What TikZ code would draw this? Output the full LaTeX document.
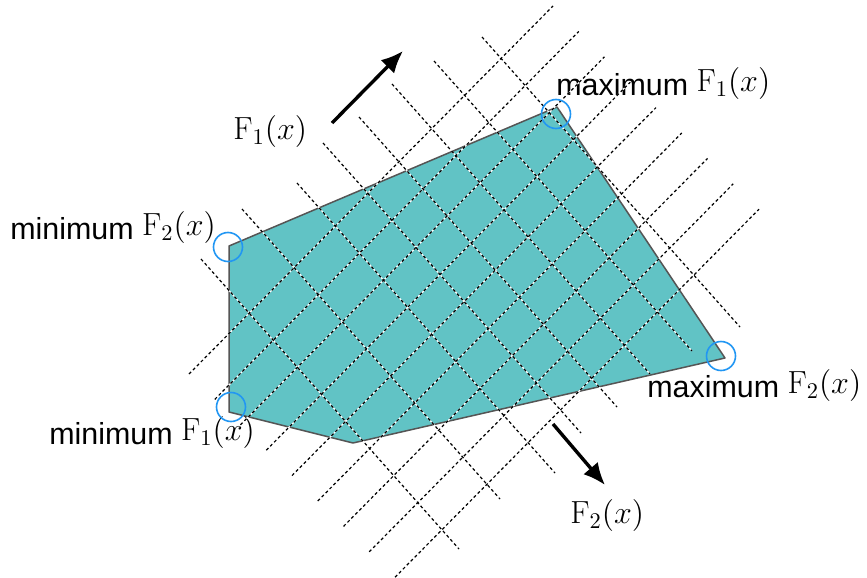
\documentclass[tikz,border=0pt]{standalone}
\usepackage{fix-cm}
\usepackage{fontspec}
\newfontfamily\labfont{Liberation Sans}
\usetikzlibrary{arrows.meta}
\definecolor{polyfill}{RGB}{97,195,197}
\definecolor{polyedge}{RGB}{85,85,85}
\definecolor{ringblue}{RGB}{33,150,243}
\newcommand{\fx}[1]{\raisebox{1.8pt}{\fontsize{16}{19}\selectfont$\mathrm{F}_{#1}(x)$}}
\begin{document}
\begin{tikzpicture}[x=0.5pt,y=-0.5pt,
  region/.style={fill=polyfill, draw=polyedge, line width=0.75pt, line join=round},
  gridbase/.style={white, line width=0.6pt},
  gridline/.style={black, line width=0.6pt, dash pattern=on 1.5pt off 1.3pt},
  optring/.style={circle, draw=ringblue, line width=0.8pt, minimum size=14.5pt, inner sep=0pt},
  lab/.style={anchor=base west, inner sep=0pt, font=\fontsize{15.2}{18}\selectfont},
  objarrow/.style={line width=1.7pt, -{Latex[length=11pt,width=9.5pt]}}]
\useasboundingbox (0,0) rectangle (867,578);

% feasible region
\coordinate (A) at (229,246);
\coordinate (B) at (557,107);
\coordinate (C) at (725,358);
\coordinate (D) at (353,443);
\coordinate (E) at (229,412);
\draw[region] (A) -- (B) -- (C) -- (D) -- (E) -- cycle;

% labels
\node[lab] (minf2) at (10,239) {\labfont minimum \fx{2}};
\node[lab] (minf1) at (49,444) {\labfont minimum \fx{1}};
\node[lab] (maxf1) at (556,95) {\labfont maximum \fx{1}};
\node[lab] (maxf2) at (647,397) {\labfont maximum \fx{2}};
\node[lab] (f1lab) at (233,143) {\fx{1}};
\node[lab] (f2lab) at (570,527) {\fx{2}};

% grid of dashed lines
\foreach \i in {0,...,8} {
  \draw[gridbase] ({189+25.75*\i},{374+25.4*\i}) -- ++(364,-368);
}
\foreach \p in {(201,259),(242,209),(297,183),(323,143),(359,117),(392,84),(434,61),(482,37)} {
  \draw[gridbase] \p -- ++(258,290);
}
\foreach \i in {0,...,8} {
  \draw[gridline] ({189+25.75*\i},{374+25.4*\i}) -- ++(364,-368);
}
\foreach \p in {(201,259),(242,209),(297,183),(323,143),(359,117),(392,84),(434,61),(482,37)} {
  \draw[gridline] \p -- ++(258,290);
}

% optimum markers
\node[optring] (rminf2) at (228,247) {};
\node[optring] (rmaxf1) at (556,114) {};
\node[optring] (rmaxf2) at (721,356) {};
\node[optring] (rminf1) at (231,407) {};

% objective direction arrows
\coordinate (a1s) at (332,123);
\coordinate (a1e) at (403,51);
\coordinate (a2s) at (553,424);
\coordinate (a2e) at (605,485);
\draw[objarrow] (a1s) -- (a1e);
\draw[objarrow] (a2s) -- (a2e);
\end{tikzpicture}
\end{document}
